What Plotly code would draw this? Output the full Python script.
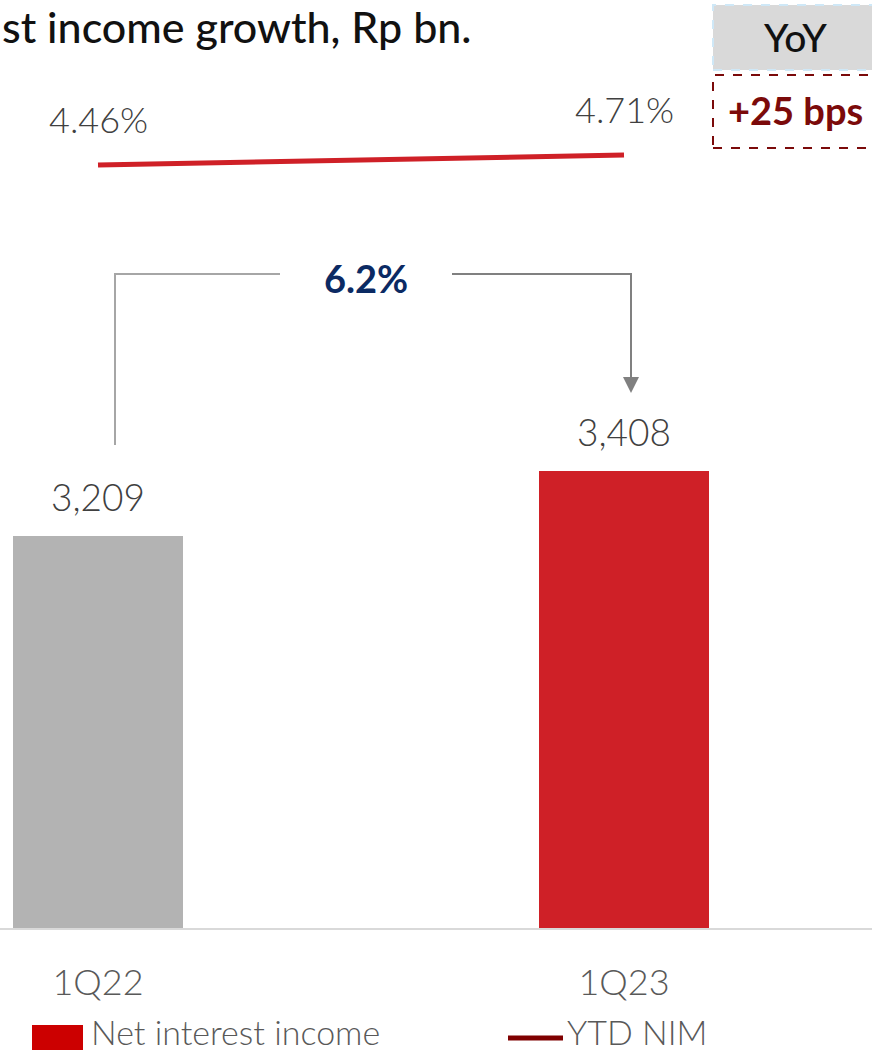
import plotly.graph_objects as go

# Quarterly net interest income (Rp bn) and year-to-date NIM (%)
quarters = ["1Q22", "1Q23"]
nii = [3209, 3408]
nim = [4.46, 4.71]
bar_colors = ["#b3b3b3", "#cf2027"]
growth_label = "6.2%"
yoy_label = "+25 bps"

W, H = 872, 1052
BASE_PX = 928  # pixel row of the category axis

fig = go.Figure()

fig.add_trace(go.Bar(
    x=quarters, y=nii, name="Net interest income",
    marker=dict(color=bar_colors, line=dict(width=0)),
    width=0.3232, showlegend=False, hoverinfo="skip",
))
fig.add_trace(go.Scatter(
    x=quarters, y=nim, name="YTD NIM", yaxis="y2", mode="lines",
    line=dict(color="#cf2027", width=5), showlegend=False, hoverinfo="skip",
))

FONT = "Lato"
GREY_TXT = "#404040"

ann = []
# value labels above bars
for q, v in zip(quarters, nii):
    ann.append(dict(x=q, y=v, xref="x", yref="y", text=f"{v:,}", showarrow=False,
                    yanchor="middle", yshift=40,
                    font=dict(family=FONT, size=37, color=GREY_TXT, weight=300)))
# NIM labels above the line
for q, v in zip(quarters, nim):
    ann.append(dict(x=q, y=v, xref="x", yref="y2", text=f"{v:.2f}%", showarrow=False,
                    yanchor="middle", yshift=46,
                    font=dict(family=FONT, size=36, color=GREY_TXT, weight=300)))


def px(xp):
    return xp / W


def py(yp):
    return 1 - yp / H


# header
ann.append(dict(x=px(0), y=py(27), xref="paper", yref="paper", xanchor="left", yanchor="middle",
                text="st income growth, Rp bn.", showarrow=False,
                font=dict(family=FONT, size=43, color="#111111", weight=500)))

# growth bracket label
ann.append(dict(x=px(366), y=py(278), xref="paper", yref="paper", xanchor="center", yanchor="middle",
                text=f"<b>{growth_label}</b>", showarrow=False,
                font=dict(family=FONT, size=38, color="#0b2a63")))

# YoY boxes
ann.append(dict(x=px(795), y=py(37), xref="paper", yref="paper", xanchor="center", yanchor="middle",
                text="YoY", showarrow=False,
                font=dict(family=FONT, size=39, color="#111111", weight=500)))
ann.append(dict(x=px(795), y=py(110), xref="paper", yref="paper", xanchor="center", yanchor="middle",
                text=f"<b>{yoy_label}</b>", showarrow=False,
                font=dict(family=FONT, size=38, color="#7b0a0a")))

# arrow head of the growth bracket
ann.append(dict(x=px(631), y=py(393), ax=0, ay=-19, xref="paper", yref="paper",
                axref="pixel", ayref="pixel", text="", showarrow=True,
                arrowhead=2, arrowsize=1.6, arrowwidth=2, arrowcolor="#808080"))

# legend
ann.append(dict(x=px(89), y=py(1031), xref="paper", yref="paper", xanchor="left", yanchor="middle",
                text="Net interest income", showarrow=False,
                font=dict(family=FONT, size=34, color="#595959", weight=300)))
ann.append(dict(x=px(565), y=py(1031), xref="paper", yref="paper", xanchor="left", yanchor="middle",
                text="YTD NIM", showarrow=False,
                font=dict(family=FONT, size=34, color="#595959", weight=300)))

shapes = [
    # YoY header box
    dict(type="rect", xref="paper", yref="paper", x0=px(713), x1=px(880), y0=py(70), y1=py(5),
         fillcolor="#d9d9d9", line=dict(color="#cfe8f7", width=2, dash="dash"), layer="below"),
    # YoY value box
    dict(type="rect", xref="paper", yref="paper", x0=px(713), x1=px(880), y0=py(148), y1=py(75),
         fillcolor="white", line=dict(color="#7b0a0a", width=2, dash="dash")),
    # growth bracket
    dict(type="path", xref="paper", yref="paper",
         path=f"M {px(115)},{py(445)} L {px(115)},{py(274)} L {px(280)},{py(274)}",
         line=dict(color="#a6a6a6", width=2)),
    dict(type="path", xref="paper", yref="paper",
         path=f"M {px(452)},{py(274)} L {px(631)},{py(274)} L {px(631)},{py(378)}",
         line=dict(color="#808080", width=2)),
    # legend swatches
    dict(type="rect", xref="paper", yref="paper", x0=px(32), x1=px(83), y0=py(1050), y1=py(1025),
         fillcolor="#cc0000", line=dict(width=0)),
    dict(type="line", xref="paper", yref="paper", x0=px(508), x1=px(563), y0=py(1038), y1=py(1038),
         line=dict(color="#7f0000", width=5)),
]

# axis ranges: 526 px between category centres, first centre at x=98 px
x_unit = 526
x_range = [-98 / x_unit, (W - 98) / x_unit]
y_px_per_unit = 0.32663
y_lo = 2009
y_hi = y_lo + BASE_PX / y_px_per_unit
y2_px_per_unit = 40
y2_lo = 4.46 - (BASE_PX - 165) / y2_px_per_unit
y2_hi = 4.46 + 165 / y2_px_per_unit

fig.update_layout(
    width=W, height=H,
    margin=dict(l=0, r=0, t=0, b=0),
    paper_bgcolor="white", plot_bgcolor="white",
    bargap=0,
    xaxis=dict(range=x_range, domain=[0, 1], showgrid=False, zeroline=False,
               showline=True, linecolor="#d9d9d9", linewidth=2, ticks="",
               tickfont=dict(family=FONT, size=36, color="#595959", weight=300),
               ticklabelstandoff=22),
    yaxis=dict(range=[y_lo, y_hi], domain=[1 - BASE_PX / H, 1], visible=False, showgrid=False),
    yaxis2=dict(range=[y2_lo, y2_hi], overlaying="y", visible=False, showgrid=False),
    annotations=ann, shapes=shapes,
    showlegend=False,
)

fig.write_html("out.html")
